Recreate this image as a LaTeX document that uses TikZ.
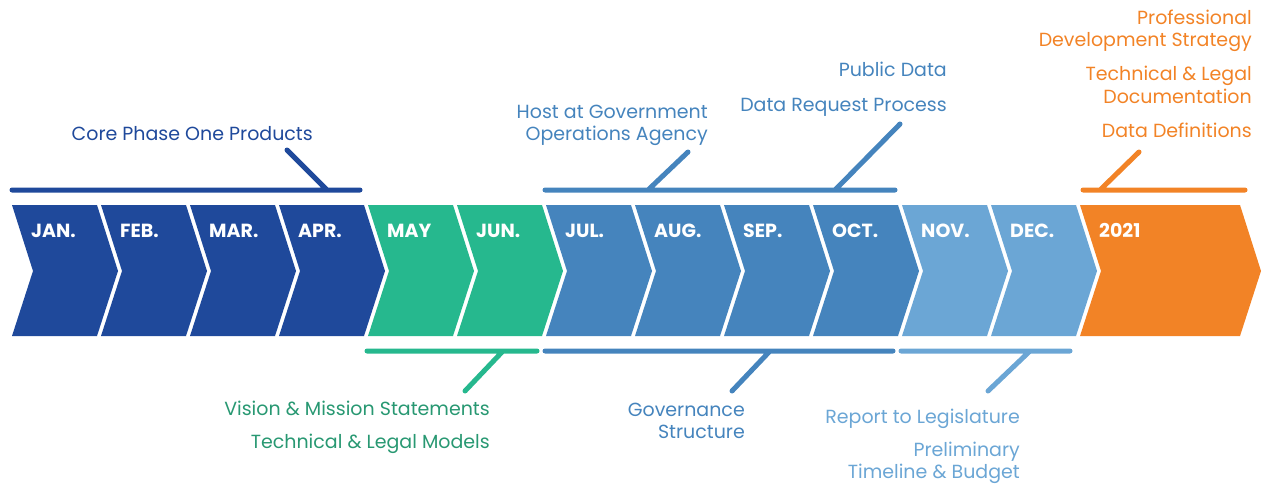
\documentclass[tikz,border=0pt]{standalone}
\usepackage{fontspec}
\setmainfont{Poppins}
\definecolor{navy}{RGB}{31,73,155}
\definecolor{jade}{RGB}{38,184,142}
\definecolor{jadetext}{RGB}{40,152,114}
\definecolor{steel}{RGB}{69,132,189}
\definecolor{sky}{RGB}{107,166,213}
\definecolor{tangerine}{RGB}{242,131,38}
\tikzset{
	month/.style={text=white,font=\bfseries\fontsize{19}{19}\selectfont,anchor=base west,inner sep=0},
	note/.style={font=\fontsize{19}{22}\selectfont,anchor=base east,align=right,inner sep=0},
	bar/.style={line width=5,line cap=round},
}
\begin{document}
\begin{tikzpicture}[x=1pt,y=-1pt]
	\useasboundingbox (0,0) rectangle (1268,484);
	\foreach \i/\m/\c in {0/JAN./navy,1/FEB./navy,2/MAR./navy,3/APR./navy,4/MAY/jade,5/JUN./jade,
			6/JUL./steel,7/AUG./steel,8/SEP./steel,9/OCT./steel,10/NOV./sky,11/DEC./sky} {
		\pgfmathsetmacro\x{12+89*\i}
		\fill[\c] (\x,205) -- ++(85,0) -- ++(21,66) -- ++(-21,65) -- ++(-85,0) -- ++(21,-65) -- cycle;
		\node[month] (m\i) at (\x+19,237) {\m};
	}
	\fill[tangerine] (1080,205) -- (1240,205) -- (1261,271) -- (1240,336) -- (1080,336) -- (1101,271) -- cycle;
	\node[month] (y2021) at (1099,237) {2021};
	% brackets above
	\draw[bar,navy] (12,190) -- (360,190) (327,190) -- (287,150);
	\draw[bar,steel] (545,190) -- (895,190) (648,190) -- (688,152) (835,190) -- (900,124);
	\draw[bar,tangerine] (1083,190) -- (1245,190) (1100,190) -- (1139,152);
	% brackets below
	\draw[bar,jade] (367,351) -- (537,351) (503,351) -- (465,391);
	\draw[bar,steel] (545,351) -- (893,351) (770,351) -- (732,391);
	\draw[bar,sky] (901,351) -- (1070,351) (1030,351) -- (988,391);
	% labels, multi-line ones placed by their last line
	\node[note,text=navy] (core) at (313,140) {Core Phase One Products};
	\node[note,text=steel] (host) at (708,140) {Host at Government\\Operations Agency};
	\node[note,text=steel] (public) at (947,77) {Public Data};
	\node[note,text=steel] (request) at (947,112) {Data Request Process};
	\node[note,text=tangerine] (strategy) at (1252,47) {Professional\\Development Strategy};
	\node[note,text=tangerine] (docs) at (1252,103) {Technical \& Legal\\Documentation};
	\node[note,text=tangerine] (defs) at (1252,137) {Data Definitions};
	\node[note,text=jadetext] (vision) at (490,415) {Vision \& Mission Statements};
	\node[note,text=jadetext] (models) at (490,448) {Technical \& Legal Models};
	\node[note,text=steel] (gov) at (745,438) {Governance\\Structure};
	\node[note,text=sky] (report) at (1020,423) {Report to Legislature};
	\node[note,text=sky] (prelim) at (1020,478) {Preliminary\\Timeline \& Budget};
\end{tikzpicture}
\end{document}
